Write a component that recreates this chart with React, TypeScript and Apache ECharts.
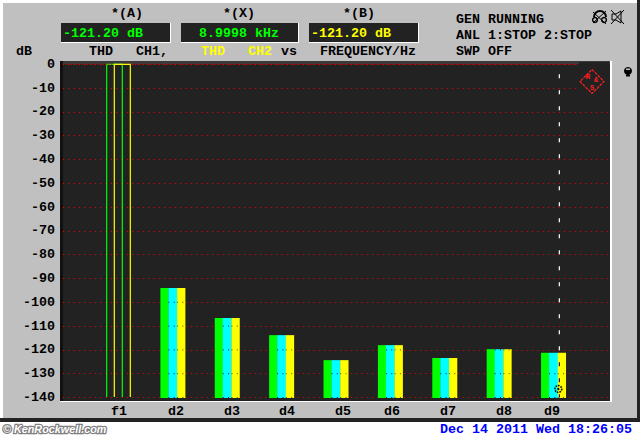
import React, { useEffect, useRef } from "react";
import * as echarts from "echarts";

const tickLabels = ["f1", "d2", "d3", "d4", "d5", "d6", "d7", "d8", "d9"];
const labelAt = [0.01, 1.057, 2.087, 3.1, 4.13, 5.03, 6.06, 7.09, 7.97];
const yTicks = [0, -10, -20, -30, -40, -50, -60, -70, -80, -90, -100, -110, -120, -130, -140];
const thdCh1 = [0, -94, -106.6, -113.8, -124.3, -118, -123.4, -119.7, -121.2];
const thdMid = [0, -94, -106.6, -113.8, -124.3, -118, -123.4, -119.7, -121.2];
const thdCh2 = [0, -94, -106.6, -113.8, -124.3, -118, -123.4, -119.7, -121.2];
const markerX = 8.107;
const Y_MIN = -140;
const MONO = '"Liberation Mono"';
const FONT = `bold 13.33px ${MONO}`;

const pts = (a: number[]) => a.map((v, i) => [i, v]);

function barRender(from: number, to: number, color: string, f1From: number, f1To: number, dots: string | null) {
  return (params: any, api: any) => {
    const i = api.value(0);
    const v = api.value(1);
    const top = api.coord([i, v]);
    const base = api.coord([i, Y_MIN]);
    if (i === 0) {
      if (color === "#00ffff") {
        return {
          type: "line",
          shape: { x1: top[0] - 4, y1: top[1], x2: top[0] + 4, y2: top[1] },
          style: { stroke: color, lineWidth: 1, lineDash: [3, 2] },
        };
      }
      return {
        type: "polyline",
        shape: {
          points: [
            [top[0] + f1From, base[1] - 0.5],
            [top[0] + f1From, top[1]],
            [top[0] + f1To, top[1]],
            [top[0] + f1To, base[1] - 0.5],
          ],
        },
        style: { stroke: color, fill: "none", lineWidth: 1.2 },
      };
    }
    const children: any[] = [
      {
        type: "rect",
        shape: { x: top[0] + from, y: top[1], width: to - from, height: base[1] - top[1] + 0.5 },
        style: { fill: color },
      },
    ];
    if (dots) {
      for (const t of yTicks) {
        if (t < v) {
          const y = api.coord([i, t])[1];
          children.push({
            type: "line",
            shape: { x1: top[0] + from, y1: y, x2: top[0] + to, y2: y },
            style: { stroke: dots, lineWidth: 1, lineDash: [1, 4.33] },
          });
        }
      }
    }
    return { type: "group", children };
  };
}

function markerRender(params: any, api: any) {
  const x = api.value(0);
  const a = api.coord([x, -4.2]);
  const b = api.coord([x, Y_MIN]);
  return {
    type: "group",
    children: [
      { type: "line", shape: { x1: a[0], y1: a[1], x2: a[0], y2: b[1] }, style: { stroke: "#ffffff", lineWidth: 1.2, lineDash: [4, 12] } },
      { type: "line", shape: { x1: a[0], y1: a[1] + 288, x2: a[0], y2: b[1] }, style: { stroke: "#111111", lineWidth: 1.2, lineDash: [4, 12] } },
      { type: "circle", shape: { cx: a[0] - 1, cy: b[1] - 8.5, r: 3.4 }, style: { fill: "none", stroke: "#000", lineWidth: 1.6, lineDash: [1.5, 1] } },
      { type: "circle", shape: { cx: a[0] - 1, cy: b[1] - 8.5, r: 1.2 }, style: { fill: "#000" } },
    ],
  };
}

function zeroRender(params: any, api: any) {
  const a = api.coord([api.value(0), 0]);
  return {
    type: "line",
    shape: { x1: a[0], y1: a[1], x2: a[0] + 515, y2: a[1] },
    style: { stroke: "#ff0000", lineWidth: 1, lineDash: [1, 1.67] },
  };
}

const txt = (text: string, x: number, y: number, fill = "#000", align = "left", font = FONT) => ({
  type: "text", x, y, z: 50,
  style: { text, fill, font, textAlign: align, textVerticalAlign: "middle" },
});
const rect = (x: number, y: number, width: number, height: number, fill: string, z = -10) => ({
  type: "rect", z, shape: { x, y, width, height }, style: { fill },
});
const seg = (x1: number, y1: number, x2: number, y2: number, stroke: string, lineWidth = 1, z = 50, lineDash?: number[]) => ({
  type: "line", z, shape: { x1, y1, x2, y2 }, style: { stroke, lineWidth, lineDash },
});
const display = (x: number, w: number, text: string, color: string, tx: number) => [
  rect(x, 23, w, 20, "#ffffff", -9),
  rect(x, 23, w - 1, 19, "#222222", -8),
  rect(x + 2, 25, w - 3, 17, "#222222", -7),
  txt(text, tx, 33, color),
];

const graphic: any[] = [
  rect(0, 0, 640, 422, "#222222", -12),
  rect(0, 0, 637, 418, "#ffffff", -11),
  rect(3, 3, 634, 415, "#c0c0c0", -10),
  rect(60, 61, 552, 341, "#ffffff", -9),
  rect(60, 61, 550, 340, "#222222", -8),
  rect(60, 61, 550, 3, "#3a3a3a", -7),
  rect(60, 61, 3, 340, "#111111", -7),
  rect(579, 62, 30, 33, "#222222", 1),
  txt("*(A)", 127, 13, "#000", "center"),
  txt("*(X)", 239, 13, "#000", "center"),
  txt("*(B)", 359, 13, "#000", "center"),
  ...display(61, 110, "-121.20 dB", "#00ff00", 63),
  ...display(181, 118, "8.9998 kHz", "#00ff00", 199),
  ...display(309, 110, "-121.20 dB", "#ffff00", 311),
  txt("dB", 16, 51),
  txt("THD", 89, 51),
  txt("CH1,", 136, 51),
  txt("THD", 201, 51, "#ffff00"),
  txt("CH2", 248, 51, "#ffff00"),
  txt("vs", 281, 51),
  txt("FREQUENCY/Hz", 320, 51),
  txt("GEN RUNNING", 456, 19),
  txt("ANL 1:STOP 2:STOP", 456, 35),
  txt("SWP OFF", 456, 51),
  // headphone icon
  { type: "arc", z: 50, shape: { cx: 600, cy: 17, r: 6, startAngle: Math.PI, endAngle: 0 }, style: { stroke: "#000", lineWidth: 2, fill: "none" } },
  { type: "circle", z: 50, shape: { cx: 595, cy: 20, r: 2.4 }, style: { fill: "none", stroke: "#000", lineWidth: 1.4 } },
  { type: "circle", z: 50, shape: { cx: 604, cy: 20, r: 2.4 }, style: { fill: "none", stroke: "#000", lineWidth: 1.4 } },
  seg(593, 12, 606, 24, "#000"),
  seg(606, 11, 593, 23, "#000"),
  // speaker icon
  { type: "polygon", z: 50, shape: { points: [[612, 14], [616, 14], [621, 11], [621, 23], [616, 20], [612, 20]] }, style: { fill: "none", stroke: "#000", lineWidth: 1 } },
  seg(611, 10, 624, 24, "#000"),
  seg(624, 10, 611, 24, "#000"),
  // knob
  { type: "circle", z: 50, shape: { cx: 628, cy: 71, r: 4 }, style: { fill: "#000" } },
  rect(626, 68.5, 4, 1.5, "#c0c0c0", 51),
  rect(626, 75, 4, 1.5, "#000", 50),
  // R&S logo
  { type: "polygon", z: 50, shape: { points: [[592, 69.5], [604, 81.5], [592, 93.5], [580, 81.5]] }, style: { fill: "none", stroke: "#ff2020", lineWidth: 1.2, lineDash: [3, 1] } },
  txt("R", 588, 76, "#ff2020", "center", `bold 8px ${MONO}`),
  txt("&", 596, 80, "#ff2020", "center", `bold 7px ${MONO}`),
  txt("S", 592, 88, "#ff2020", "center", `bold 7px ${MONO}`),
  // footer
  rect(0, 422, 640, 14, "#ffffff", -12),
  {
    type: "text", x: 3, y: 429, z: 50,
    style: {
      text: "© KenRockwell.com", fill: "#ffffff", stroke: "#808080", lineWidth: 2.5,
      font: 'italic bold 10.8px "Liberation Sans"', textAlign: "left", textVerticalAlign: "middle",
    },
  },
  txt("Dec 14 2011 Wed 18:26:05", 440, 429, "#0000ff"),
];

const option: any = {
  animation: false,
  backgroundColor: "#ffffff",
  grid: { left: 63, top: 64.3, width: 546, height: 333.2 },
  xAxis: {
    type: "value",
    min: -1.0207,
    max: 9.02,
    splitLine: { show: false },
    axisLine: { show: false },
    axisTick: { show: false },
    axisLabel: {
      customValues: labelAt,
      margin: 7,
      color: "#000",
      fontFamily: MONO,
      fontWeight: "bold",
      fontSize: 13.33,
      formatter: (v: number) => tickLabels[labelAt.indexOf(v)] ?? "",
    },
  },
  yAxis: {
    type: "value",
    min: Y_MIN,
    max: 0,
    interval: 10,
    axisLine: { show: false },
    axisTick: { show: false },
    axisLabel: { margin: 8, color: "#000", fontFamily: MONO, fontWeight: "bold", fontSize: 13.33 },
    splitLine: { lineStyle: { color: "#ff0000", width: 1, type: [1, 4.33] } },
  },
  graphic,
  series: [
    { type: "custom", name: "THD CH1", z: 3, clip: false, data: pts(thdCh1), renderItem: barRender(-12.5, -4.2, "#00ff00", -11.8, 3.8, null) },
    { type: "custom", name: "THD", z: 4, clip: false, data: pts(thdMid), renderItem: barRender(-4.5, 4.5, "#00ffff", 0, 0, "#0000a0") },
    { type: "custom", name: "THD CH2", z: 5, clip: false, data: pts(thdCh2), renderItem: barRender(4.2, 12.5, "#ffff00", -4.2, 11.8, "#555500") },
    { type: "custom", name: "Top", z: 3, clip: false, data: [[-1.0207, 0]], renderItem: zeroRender },
    { type: "custom", name: "Marker", z: 6, clip: false, data: [[markerX, 0]], renderItem: markerRender },
  ],
};

export default function App() {
  const ref = useRef<HTMLDivElement>(null);
  useEffect(() => {
    const chart = echarts.init(ref.current!, undefined, { renderer: "svg" });
    chart.setOption(option);
    return () => chart.dispose();
  }, []);
  return <div ref={ref} style={{ position: "fixed", left: 0, top: 0, width: 640, height: 436 }} />;
}
